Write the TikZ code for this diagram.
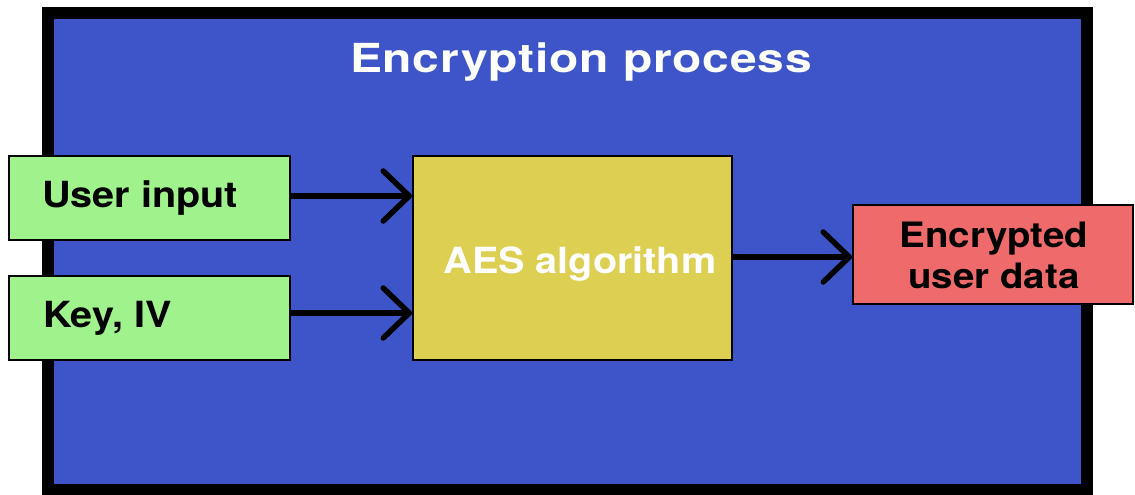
\documentclass[tikz,border=0pt]{standalone}
\usepackage{fontspec}
\setmainfont{TeX Gyre Heros}[FakeStretch=1.1]
\newfontfamily\titlefont{TeX Gyre Heros}[FakeStretch=1.2, LetterSpace=2]
\usetikzlibrary{arrows.meta}
\definecolor{frameblue}{HTML}{3E54C9}
\definecolor{boxgreen}{HTML}{A0F38C}
\definecolor{boxyellow}{HTML}{DDCF52}
\definecolor{boxred}{HTML}{EF6B6B}
\tikzset{
  inbox/.style={draw=black, line width=2pt, fill=boxgreen, minimum width=281pt, minimum height=84pt, inner sep=0pt},
  conn/.style={line width=5.5pt, -{Straight Barb[length=26pt,width=50pt,round]}},
  lbl/.style={font=\bfseries\fontsize{36}{41}\selectfont, inner sep=0pt}
}
\begin{document}
\begin{tikzpicture}[x=1pt,y=-1pt]
\useasboundingbox (0,0) rectangle (1135,495);
\fill[white] (0,0) rectangle (1135,495);
\draw[line width=12pt, fill=frameblue] (48,13) rectangle (1087,490);
\node[text=white, inner sep=0pt, anchor=base, font=\titlefont\bfseries\fontsize{40}{44}\selectfont] (title) at (581,73) {Encryption process};
\node[inbox] (user) at (149.5,198) {};
\node[lbl, anchor=base west] (userlbl) at (42,207) {User input};
\node[inbox] (key) at (149.5,317.5) {};
\node[lbl, anchor=base west] (keylbl) at (43,327) {Key, IV};
\node[draw=black, line width=2pt, fill=boxyellow, minimum width=319pt, minimum height=204pt, inner sep=0pt] (aes) at (572.5,258) {};
\node[lbl, text=white, anchor=base] (aeslbl) at (580,273) {AES algorithm};
\node[draw=black, line width=2pt, fill=boxred, minimum width=280pt, minimum height=99pt, inner sep=0pt] (out) at (993,254.5) {};
\node[lbl, anchor=base, font=\bfseries\fontsize{35}{41}\selectfont] (outl1) at (994,247) {Encrypted};
\node[lbl, anchor=base, font=\bfseries\fontsize{35}{41}\selectfont] (outl2) at (994,288) {user data};
\draw[conn] (user.east |- 0,196) -- (aes.west |- 0,196);
\draw[conn] (key.east |- 0,313) -- (aes.west |- 0,313);
\draw[conn] (aes.east |- 0,257) -- (out.west |- 0,257);
\end{tikzpicture}
\end{document}
